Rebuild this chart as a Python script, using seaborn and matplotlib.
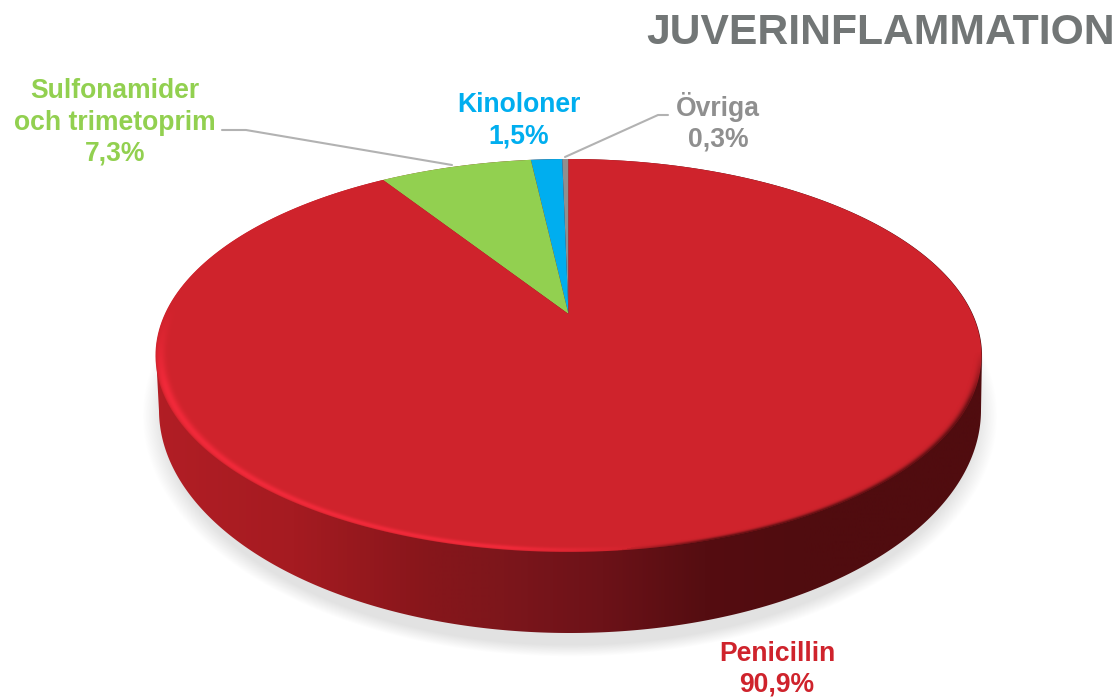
import numpy as np
import matplotlib
matplotlib.use("Agg")
import matplotlib.pyplot as plt
from matplotlib.colors import LinearSegmentedColormap
from matplotlib.patches import PathPatch
from matplotlib.path import Path
from matplotlib.transforms import Affine2D
import seaborn as sns

categories = ["Övriga", "Kinoloner", "Sulfonamider\noch trimetoprim", "Penicillin"]
values = [0.3, 1.5, 7.3, 90.9]
value_labels = ["0,3%", "1,5%", "7,3%", "90,9%"]
title = "JUVERINFLAMMATION"

sns.set_theme(style="white")
plt.rcParams["font.family"] = ["Liberation Sans", "DejaVu Sans"]
palette = sns.color_palette(["#8F8F8F", "#00AEEF", "#92D050", "#CF232C"])

W, H = 1119, 697
fig = plt.figure(figsize=(W / 100, H / 100), dpi=100, facecolor="white")
ax = fig.add_axes([0, 0, 1, 1])

# view: perspective of the unit pie onto the picture
APEX_X, APEX_Y = 568.5, 314.0
K, SX, SY = 0.2109, 403.7, 187.7


def project(v):
    d = 1 + K * v[:, 1]
    return np.column_stack([APEX_X + SX * v[:, 0] / d, APEX_Y - SY * v[:, 1] / d])


wedges, _ = ax.pie(values, colors=palette, startangle=90, counterclock=True, radius=1)
ax.set_aspect("auto")
ax.set_xlim(0, W)
ax.set_ylim(H, 0)
ax.axis("off")

yy, xx = np.mgrid[0:H, 0:W] + 0.5

# soft shadow
rs = np.hypot((xx - 570) / 428, (yy - 416) / 241)
shadow = np.zeros((H, W, 4))
shadow[..., 3] = 0.115 * np.clip((1 - rs) / 0.05, 0, 1)
ax.imshow(shadow, extent=(0, W, H, 0), zorder=0.5, interpolation="bilinear", aspect="auto")

# side wall: gradient clipped to the outline of the disc
t = np.linspace(0, 2 * np.pi, 720)
TCX, TCY, TA, TB = 569.0, 355.5, 413.0, 196.5
BCX, BCY, BA, BB = 570.0, 410.0, 411.0, 223.0
lo = t[(t >= 0) & (t <= np.pi)]
up = t[(t > np.pi)]
outline = np.vstack([
    np.column_stack([BCX + BA * np.cos(lo), BCY + BB * np.sin(lo)]),
    np.column_stack([TCX + TA * np.cos(up), TCY + TB * np.sin(up)]),
])
side_cmap = LinearSegmentedColormap.from_list("side", [
    (0.000, "#B21E25"), (0.170, "#A51B21"), (0.330, "#87161B"), (0.420, "#7D161C"),
    (0.540, "#6C1218"), (0.660, "#550D11"), (0.780, "#500C0F"), (1.000, "#500C0F"),
])
grad = np.linspace(0, 1, 512).reshape(1, -1)
side = ax.imshow(grad, cmap=side_cmap, extent=(150, 990, 640, 150), zorder=1,
                 aspect="auto", interpolation="bilinear")
side.set_clip_path(PathPatch(Path(outline, closed=True), transform=ax.transData))

# top face: the pie wedges under the perspective
for w in wedges:
    big = w.get_path().transformed(Affine2D().scale(2000))
    poly = big.to_polygons(closed_only=True)[0] / 2000
    w.set_visible(False)
    ax.add_patch(PathPatch(Path(project(poly), closed=True), facecolor=w.get_facecolor(),
                           edgecolor="none", zorder=2, antialiased=True))

# rim: highlight lower left, dark lower right
rt = np.hypot((xx - TCX) / TA, (yy - TCY) / TB)
ang = np.arctan2((yy - TCY) / TB, (xx - TCX) / TA)
inside = np.clip((1.0 - rt) * 150 + 0.5, 0, 1)
cos_a, sin_a = np.cos(ang), np.sin(ang)
light = np.clip((sin_a + 0.25) * 2.5, 0, 1) * np.clip((0.18 - cos_a) * 3.0, 0, 1)
dark = np.clip((sin_a + 0.02) * 4.0, 0, 1) * np.clip((cos_a - 0.10) * 4.0, 0, 1)
band = np.exp(-((1 - rt - 0.011) / 0.012) ** 2)
darkband = np.exp(-((1 - rt) / 0.011) ** 2)
rim = np.zeros((H, W, 4))
a_l = inside * light * band * 0.8
a_d = inside * dark * darkband * 0.9
rim[..., 0] = np.where(a_l >= a_d, 0.98, 0.32)
rim[..., 1] = np.where(a_l >= a_d, 0.17, 0.05)
rim[..., 2] = np.where(a_l >= a_d, 0.24, 0.06)
rim[..., 3] = np.maximum(a_l, a_d)
ax.imshow(rim, extent=(0, W, H, 0), zorder=3, interpolation="bilinear", aspect="auto")
ax.set_xlim(0, W)
ax.set_ylim(H, 0)

# leader lines
ax.plot([222, 246, 452], [130, 130, 165], color="#B2B2B2", lw=1.5, zorder=4, solid_joinstyle="miter")
ax.plot([668, 658, 565], [115, 115, 157], color="#B2B2B2", lw=1.5, zorder=4, solid_joinstyle="miter")

# labels
FS = 19.1
pos = [(718, 122), (519, 121), (115, 122.5), (777, 669.5)]
for i, (name, val) in enumerate(zip(categories, value_labels)):
    ax.text(pos[i][0], pos[i][1], f"{name}\n{val}", color=palette[i], fontsize=FS,
            fontweight="bold", ha="center", va="center", linespacing=1.25, zorder=5)

ax.text(1115, 33, title, color="#727676", fontsize=30.7, fontweight="bold",
        ha="right", va="center", zorder=5)

fig.savefig("out.png", dpi=100, facecolor="white")
